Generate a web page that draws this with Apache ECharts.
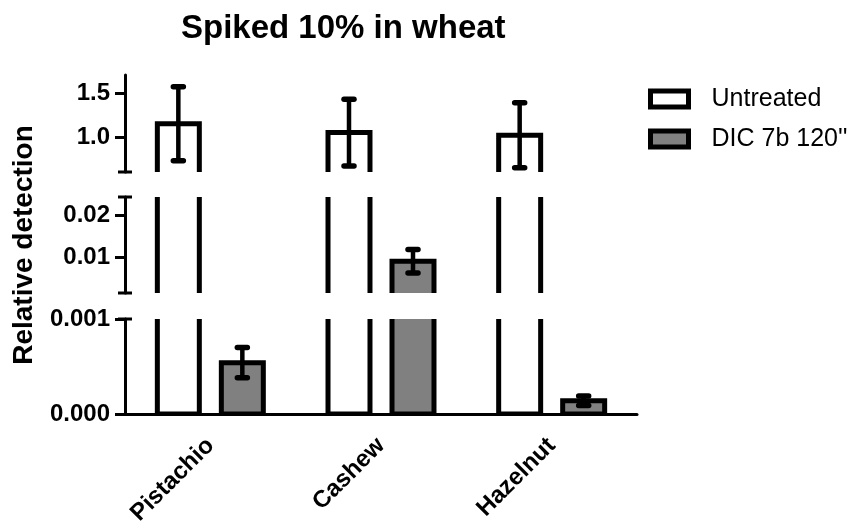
<!DOCTYPE html>
<html lang="en">
<head>
<meta charset="UTF-8">
<title>Spiked 10% in wheat</title>
<script src="https://cdn.jsdelivr.net/npm/echarts@6/dist/echarts.min.js"></script>
</head>
<body style="margin: 0">
<div id="container" style="width: 864px; height: 528px;"></div>
<script>
var categories = ["Pistachio", "Cashew", "Hazelnut"];
var untreatedMean = [1.15, 1.05, 1.02];
var untreatedErr = [0.42, 0.38, 0.37];
var dicMean = [0.00054, 0.0090, 0.00014];
var dicErr = [0.00016, 0.0028, 0.00005];

// broken y axis: three pieces, top to bottom
var pieces = [
    { top: 75, height: 97, min: 0.602, max: 1.705, ticks: [1.0, 1.5], digits: 1, caps: ["rect", "none"] },
    { top: 197, height: 96, min: 0.00143, max: 0.02429, ticks: [0.01, 0.02], digits: 2, caps: ["rect", "rect"] },
    { top: 319, height: 96, min: 0, max: 0.001, ticks: [0, 0.001], digits: 3, caps: ["none", "rect"] }
];

var font = "Liberation Sans, Arial, sans-serif";

function barRenderer(offset, fill) {
    return function (params, api) {
        var i = api.value(0), v = api.value(1), e = api.value(2);
        var band = api.size([1, 0])[0];
        var base = api.coord([i, 0]);
        var cx = base[0] + offset * band;
        var w = band * 0.246;
        var yv = api.coord([i, v])[1];
        var yHi = api.coord([i, v + e])[1];
        var yLo = api.coord([i, v - e])[1];
        var cap = { stroke: "#000", lineWidth: 5.5, lineCap: "round" };
        return {
            type: "group",
            children: [
                { type: "rect", shape: { x: cx - w / 2, y: yv, width: w, height: base[1] - yv },
                  style: { fill: fill, stroke: "#000", lineWidth: 5 } },
                { type: "line", shape: { x1: cx, y1: yHi, x2: cx, y2: yLo }, style: { stroke: "#000", lineWidth: 4.5 } },
                { type: "line", shape: { x1: cx - 5, y1: yHi, x2: cx + 5, y2: yHi }, style: cap },
                { type: "line", shape: { x1: cx - 5, y1: yLo, x2: cx + 5, y2: yLo }, style: cap }
            ]
        };
    };
}

var untreatedData = categories.map(function (c, i) { return [i, untreatedMean[i], untreatedErr[i]]; });
var dicData = categories.map(function (c, i) { return [i, dicMean[i], dicErr[i]]; });

var grids = [], xAxes = [], yAxes = [], series = [];
pieces.forEach(function (p, k) {
    var last = k === pieces.length - 1;
    grids.push({ left: 125, width: 512, top: p.top, height: p.height });
    xAxes.push({
        type: "category", gridIndex: k, data: categories, show: last,
        axisLine: { lineStyle: { color: "#000", width: 3 } },
        axisTick: { alignWithLabel: true, length: 9, lineStyle: { width: 3 } },
        axisLabel: { rotate: 45, margin: 28, color: "#000", fontWeight: "bold", fontSize: 24, fontFamily: font }
    });
    yAxes.push({
        type: "value", gridIndex: k, min: p.min, max: p.max,
        splitLine: { show: false },
        axisLine: { show: true, symbol: p.caps, symbolSize: [14, 3], lineStyle: { color: "#000", width: 3 } },
        axisTick: { show: true, customValues: p.ticks, length: 10, lineStyle: { width: 3 } },
        axisLabel: {
            customValues: p.ticks, margin: 15, color: "#000", fontWeight: "bold", fontSize: 24, fontFamily: font,
            formatter: (function (d) { return function (v) { return v.toFixed(d); }; })(p.digits)
        },
        name: k === 1 ? "Relative detection" : "",
        nameLocation: "middle", nameRotate: 90, nameGap: 87,
        nameTextStyle: { color: "#000", fontWeight: "bold", fontSize: 28, fontFamily: font }
    });
    series.push({
        type: "custom", name: "Untreated", xAxisIndex: k, yAxisIndex: k, clip: true,
        itemStyle: { color: "#fff", borderColor: "#000" },
        renderItem: barRenderer(-0.1875, "#fff"), data: untreatedData
    });
    series.push({
        type: "custom", name: "DIC 7b 120''", xAxisIndex: k, yAxisIndex: k, clip: true,
        itemStyle: { color: "#808080", borderColor: "#000" },
        renderItem: barRenderer(0.1875, "#808080"), data: dicData
    });
});

var myChart = echarts.init(document.getElementById("container"), null, { renderer: "canvas" });
myChart.setOption({
    animation: false,
    backgroundColor: "#fff",
    title: {
        text: "Spiked 10% in wheat", left: 176, top: 7,
        textStyle: { color: "#000", fontWeight: "bold", fontSize: 33, fontFamily: font }
    },
    legend: {
        orient: "vertical", left: 643, top: 81, itemWidth: 38, itemHeight: 16, itemGap: 14,
        selectedMode: false,
        textStyle: { color: "#000", fontSize: 25, fontFamily: font, lineHeight: 26, padding: [0, 0, 0, 18] },
        data: [
            { name: "Untreated", icon: "rect", itemStyle: { color: "#fff", borderColor: "#000", borderWidth: 5 } },
            { name: "DIC 7b 120''", icon: "rect", itemStyle: { color: "#808080", borderColor: "#000", borderWidth: 5 } }
        ]
    },
    grid: grids,
    xAxis: xAxes,
    yAxis: yAxes,
    series: series
});
</script>
</body>
</html>
